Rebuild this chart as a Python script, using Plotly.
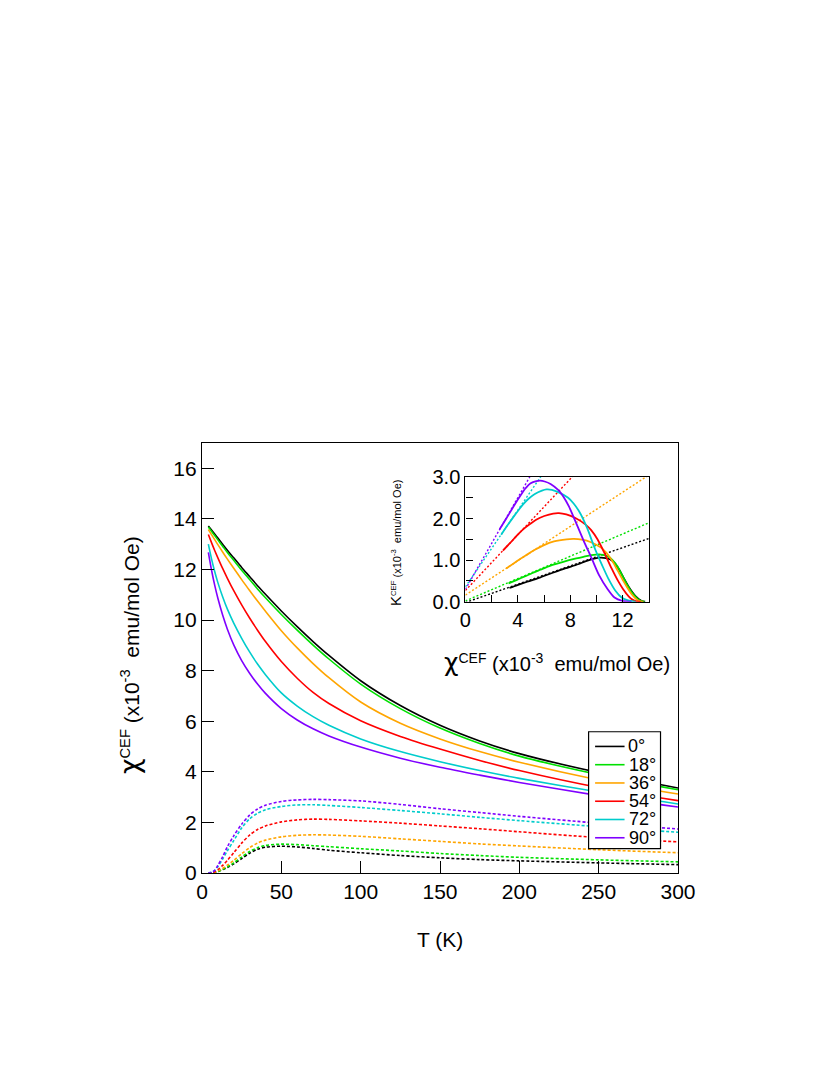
import plotly.graph_objects as go

# ---------------- data ----------------
angles = ["0°", "18°", "36°", "54°", "72°", "90°"]
colors = ["#000000", "#00e000", "#ffa500", "#ff0000", "#00cccc", "#7f00ff"]

T = [4, 6, 8, 10, 13, 16, 20, 25, 30, 35, 40, 50, 60, 70, 80, 100, 125, 150, 175, 200, 250, 300]

chi_0 = [13.72, 13.56, 13.4, 13.24, 13.0, 12.76, 12.46, 12.08, 11.72, 11.36, 11.02, 10.36, 9.74, 9.15, 8.6, 7.6, 6.62, 5.84, 5.22, 4.72, 3.97, 3.36]
chi_18 = [13.68, 13.51, 13.34, 13.17, 12.92, 12.67, 12.36, 11.97, 11.6, 11.23, 10.88, 10.22, 9.6, 9.01, 8.46, 7.47, 6.5, 5.73, 5.12, 4.62, 3.89, 3.29]
chi_36 = [13.58, 13.38, 13.18, 12.98, 12.69, 12.41, 12.05, 11.6, 11.17, 10.75, 10.35, 9.58, 8.9, 8.28, 7.72, 6.76, 5.92, 5.3, 4.8, 4.38, 3.68, 3.12]
chi_54 = [13.38, 13.06, 12.75, 12.46, 12.04, 11.65, 11.16, 10.6, 10.08, 9.6, 9.15, 8.36, 7.7, 7.14, 6.7, 6.02, 5.4, 4.9, 4.45, 4.05, 3.38, 2.86]
chi_72 = [13.0, 12.42, 11.92, 11.48, 10.92, 10.43, 9.88, 9.28, 8.74, 8.26, 7.84, 7.12, 6.6, 6.18, 5.84, 5.3, 4.8, 4.4, 4.05, 3.74, 3.2, 2.73]
chi_90 = [12.68, 11.98, 11.38, 10.86, 10.2, 9.64, 9.02, 8.4, 7.9, 7.47, 7.1, 6.5, 6.05, 5.7, 5.42, 4.98, 4.54, 4.18, 3.87, 3.58, 3.06, 2.61]

K_0 = [0.0, 0.01, 0.03, 0.06, 0.13, 0.22, 0.36, 0.57, 0.78, 0.94, 1.02, 1.06, 1.03, 0.97, 0.9, 0.8, 0.69, 0.6, 0.53, 0.48, 0.4, 0.33]
K_18 = [0.0, 0.01, 0.03, 0.06, 0.14, 0.24, 0.4, 0.63, 0.85, 1.0, 1.09, 1.14, 1.12, 1.08, 1.04, 0.96, 0.87, 0.77, 0.69, 0.62, 0.52, 0.44]
K_36 = [0.0, 0.01, 0.03, 0.08, 0.18, 0.31, 0.5, 0.76, 1.0, 1.18, 1.3, 1.43, 1.49, 1.51, 1.5, 1.45, 1.35, 1.25, 1.15, 1.07, 0.92, 0.8]
K_54 = [0.0, 0.01, 0.05, 0.13, 0.3, 0.5, 0.8, 1.18, 1.5, 1.72, 1.86, 2.02, 2.1, 2.13, 2.12, 2.06, 1.97, 1.86, 1.75, 1.63, 1.4, 1.23]
K_72 = [0.0, 0.03, 0.1, 0.25, 0.55, 0.88, 1.28, 1.78, 2.14, 2.36, 2.5, 2.63, 2.69, 2.7, 2.67, 2.59, 2.47, 2.34, 2.2, 2.07, 1.83, 1.61]
K_90 = [0.0, 0.02, 0.1, 0.3, 0.64, 1.04, 1.47, 1.93, 2.29, 2.53, 2.68, 2.83, 2.89, 2.91, 2.9, 2.85, 2.71, 2.54, 2.39, 2.24, 1.97, 1.74]

# linear high-temperature fits K = slope * chi + intercept (inset dotted lines)
fit_slope = [0.11, 0.134, 0.206, 0.335, 0.46, 0.55]
fit_intercept = [-0.02, 0.02, 0.16, 0.27, 0.36, 0.30]
fit_chi_range = [0, 14]

main_x_ticks = [0, 50, 100, 150, 200, 250, 300]
main_y_ticks = [0, 2, 4, 6, 8, 10, 12, 14, 16]

chis = [chi_0, chi_18, chi_36, chi_54, chi_72, chi_90]
Ks = [K_0, K_18, K_36, K_54, K_72, K_90]

FONT = "Liberation Sans, Arial, Helvetica, sans-serif"
CHI = '<span style="font-family:DejaVu Sans;font-size:{}px">χ</span>'

fig = go.Figure()

# main dotted K(T)
for i in range(6):
    fig.add_trace(go.Scatter(x=T, y=Ks[i], mode="lines",
                             line=dict(color=colors[i], width=1.6, dash="3px,2px", shape="spline", smoothing=0.8),
                             showlegend=False, xaxis="x", yaxis="y"))
# main solid chi(T)
for i in range(6):
    fig.add_trace(go.Scatter(x=T, y=chis[i], mode="lines", name=angles[i],
                             line=dict(color=colors[i], width=1.6, shape="spline", smoothing=0.8),
                             showlegend=False, xaxis="x", yaxis="y"))

# inset: dotted fit lines
for i in range(6):
    xs = fit_chi_range
    ys = [fit_slope[i] * c + fit_intercept[i] for c in xs]
    fig.add_trace(go.Scatter(x=xs, y=ys, mode="lines", line=dict(color=colors[i], width=1.4, dash="2px,2px"),
                             showlegend=False, xaxis="x2", yaxis="y2"))
# inset: K vs chi
for i in range(6):
    fig.add_trace(go.Scatter(x=chis[i], y=Ks[i], mode="lines",
                             line=dict(color=colors[i], width=1.8, shape="spline", smoothing=0.8),
                             showlegend=False, xaxis="x2", yaxis="y2"))

axis_common = dict(showline=True, linecolor="black", linewidth=1.2, mirror=True, ticks="inside",
                   tickcolor="black", showgrid=False, zeroline=False)

fig.update_layout(
    width=830, height=1075,
    margin=dict(l=194, r=159.5, t=434.7, b=209.5),
    paper_bgcolor="white", plot_bgcolor="white",
    font=dict(family=FONT, color="black"),
    showlegend=False,
    xaxis=dict(range=[0, 300], tickvals=main_x_ticks, ticklen=12, tickwidth=1.2, domain=[0, 1],
               tickfont=dict(family=FONT, size=21, color="black"), **axis_common),
    yaxis=dict(range=[0, 17], tickvals=main_y_ticks, ticklen=12, tickwidth=1.2, domain=[0, 1],
               tickfont=dict(family=FONT, size=21, color="black"), **axis_common),
    xaxis2=dict(range=[0, 14], dtick=4, tick0=0, ticklen=7, tickwidth=1.2, domain=[0.5534, 0.9387], anchor="y2",
                minor=dict(dtick=2, ticks="inside", ticklen=7, tickcolor="black", tickwidth=1.2),
                tickfont=dict(family=FONT, size=20, color="black"), **axis_common),
    yaxis2=dict(range=[0, 3.0], dtick=1, tick0=0, tickformat=".1f", ticklen=7, tickwidth=1.2,
                domain=[0.6309, 0.9211], anchor="x2",
                minor=dict(dtick=0.5, ticks="inside", ticklen=7, tickcolor="black", tickwidth=1.2),
                tickfont=dict(family=FONT, size=20, color="black"), **axis_common),
)

ann = []
ann.append(dict(text=CHI.format(27) + '<sup>CEF</sup> (x10<sup>-3</sup>  emu/mol Oe)',
                x=-0.151, y=0.507, xref="paper", yref="paper", xanchor="center", yanchor="middle",
                textangle=-90, showarrow=False, font=dict(family=FONT, size=21, color="black")))
ann.append(dict(text="T (K)", x=0.4995, y=-0.154, xref="paper", yref="paper", xanchor="center", yanchor="middle",
                showarrow=False, font=dict(family=FONT, size=21, color="black")))
ann.append(dict(text=CHI.format(25) + '<sup>CEF</sup> (x10<sup>-3</sup>  emu/mol Oe)',
                x=0.745, y=0.4886, xref="paper", yref="paper", xanchor="center", yanchor="middle",
                showarrow=False, font=dict(family=FONT, size=20, color="black")))
ann.append(dict(text='<span style="font-size:15px">K</span><sup>CEF</sup> (x10<sup>-3</sup>  emu/mol Oe)',
                x=0.405, y=0.767, xref="paper", yref="paper", xanchor="center", yanchor="middle",
                textangle=-90, showarrow=False, font=dict(family=FONT, size=11, color="black")))

# legend box (drawn manually to match the compact original)
def px2x(px):
    return (px - 202.0) / 476.5

def py2y(py):
    return (873.5 - py) / 430.8

shapes = [dict(type="rect", xref="paper", yref="paper", x0=px2x(589), x1=px2x(661), y0=py2y(849), y1=py2y(732),
               line=dict(color="black", width=1.2), fillcolor="white", layer="above")]
for i, name in enumerate(angles):
    yc = py2y(746.7 + i * 18.3)
    shapes.append(dict(type="line", xref="paper", yref="paper", x0=px2x(595.5), x1=px2x(625), y0=yc, y1=yc,
                       line=dict(color=colors[i], width=1.6), layer="above"))
    if i == 0:
        ann.append(dict(text=name, x=px2x(626.5), y=yc, xref="paper", yref="paper", xanchor="left", yanchor="middle",
                        showarrow=False, font=dict(family=FONT, size=18, color="black")))
    else:
        ann.append(dict(text=name, x=px2x(658), y=yc, xref="paper", yref="paper", xanchor="right", yanchor="middle",
                        showarrow=False, font=dict(family=FONT, size=18, color="black")))

fig.update_layout(annotations=ann, shapes=shapes)

fig.write_html("out.html")
